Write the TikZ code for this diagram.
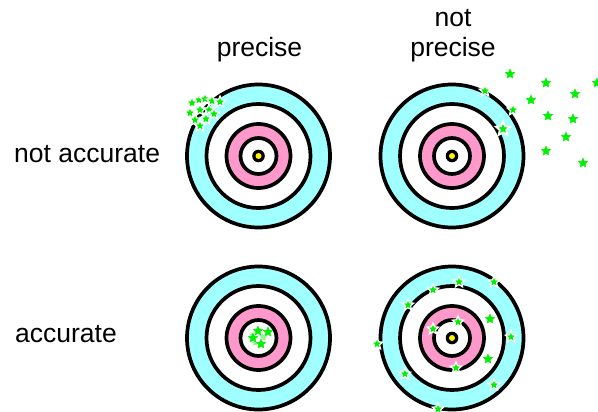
\documentclass[tikz,border=0pt]{standalone}
\usepackage{fontspec}
\setmainfont{Liberation Sans}
\usepackage{tikz}
\usetikzlibrary{shapes.geometric}
\definecolor{ringcyan}{RGB}{160,255,255}
\definecolor{ringpink}{RGB}{255,153,204}
\definecolor{hitgreen}{RGB}{0,240,0}
\tikzset{
  hit/.style={star, star points=5, star point ratio=2.2, fill=hitgreen,
    draw=hitgreen, line width=0.4pt, inner sep=0pt, minimum size=10pt},
  halo/.style={hit, draw=white, line width=1.2pt, minimum size=12pt},
  bighalo/.style={hit, draw=white, line width=1.8pt, minimum size=15pt},
  faint/.style={hit, fill=hitgreen!45, draw=hitgreen!45, minimum size=5pt},
  rowname/.style={font=\fontsize{26.5}{30}\selectfont, inner sep=0pt},
  bullseye/.pic={
    \fill[ringcyan] (0,0) circle (73pt);
    \fill[white] (0,0) circle (52pt);
    \fill[ringpink] (0,0) circle (32pt);
    \fill[white] (0,0) circle (18pt);
    \foreach \r in {71.5,52,32,18}
      \draw[line width=3.7pt] (0,0) circle (\r pt);
    \fill (0,0) circle (6.3pt);
    \fill[yellow] (0,0) circle (3pt);
  }
}

\begin{document}
\begin{tikzpicture}[x=1pt, y=-1pt]
  \useasboundingbox (0,0) rectangle (598,412);
  % targets
  \pic at (258.5,156) {bullseye};
  \pic at (452,156) {bullseye};
  \pic at (258.5,338) {bullseye};
  \pic at (452,338) {bullseye};
  % column and row names
  \node[rowname, anchor=base] (precise) at (259.5,57) {precise};
  \node[rowname, anchor=base, align=center] (notprecise) at (453,57) {not\\precise};
  \node[rowname, anchor=base west] (notaccurate) at (14,163) {not accurate};
  \node[rowname, anchor=base west] (accurate) at (15,342) {accurate};
  % precise, not accurate
  \foreach \x/\y [count=\i] in {192/103,199/100,205/99,212/101,220/102,190/113,
      200/110,209/110,214/114,195/120,206/119,200/126}
    \node[halo] (a\i) at (\x,\y) {};
  % not precise, not accurate
  \foreach \x/\y [count=\i] in {510/74,546/83,597/83,531/100,575/94,548/116,
      573/119,566/137,546/151,583/163}
    \node[hit] (b\i) at (\x,\y) {};
  \node[halo] (b11) at (485,91) {};
  \node[halo] (b12) at (513,110) {};
  \node[bighalo] (b13) at (503,129) {};
  % precise, accurate (the hits cover the centre dot)
  \fill[white] (258.5,338) circle (8pt);
  \foreach \x/\y [count=\i] in {252/335,264/338,255/343,262/336}
    \node[faint] (c\i) at (\x,\y) {};
  \foreach \x/\y [count=\i from 5] in {258/331,268/332,253/338,261/344}
    \node[hit] (c\i) at (\x,\y) {};
  % not precise, accurate
  \foreach \x/\y [count=\i] in {377/344,408/305,433/290,459/282,494/282,458/322,
      433/329,511/337,456/368,405/374,494/385,438/409}
    \node[halo] (d\i) at (\x,\y) {};
  \node[hit] (d13) at (490,319) {};
  \node[hit] (d14) at (488,359) {};
\end{tikzpicture}
\end{document}
